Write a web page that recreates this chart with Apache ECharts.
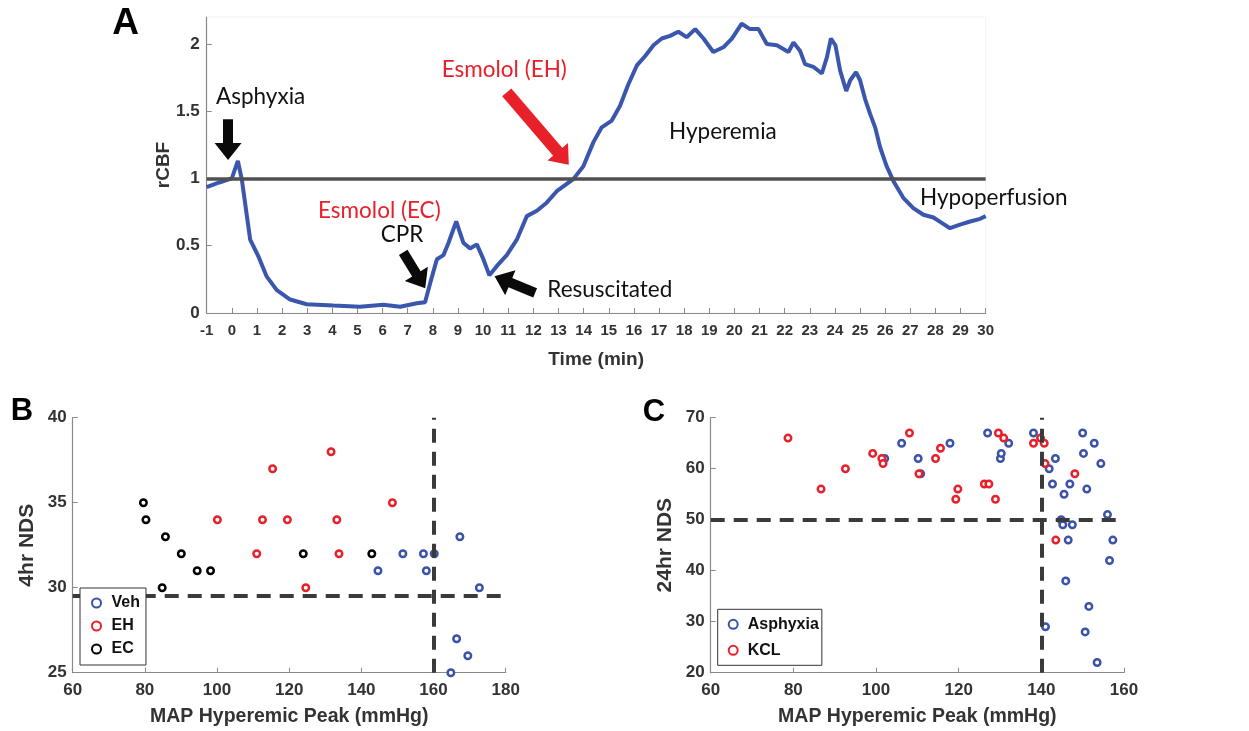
<!DOCTYPE html>
<html>
<head>
<meta charset="utf-8">
<title>rCBF and NDS</title>
<script src="https://cdn.jsdelivr.net/npm/echarts@6/dist/echarts.min.js"></script>
<style>
html, body { margin: 0; padding: 0; background: #fff; }
#main { width: 1249px; height: 731px; }
</style>
</head>
<body>
<div id="main"></div>
<script>
// panel A: rCBF trace
var timeA = [-1, -0.5, 0, 0.24, 0.4, 0.6, 0.73, 1.06, 1.39, 1.79, 2.32, 2.98, 4.04, 5.1, 6.03, 6.7, 7.36, 7.69,
	7.89, 8.16, 8.42, 8.62, 8.93, 9.22, 9.48, 9.75, 10.01, 10.25, 10.55, 10.94, 11.34, 11.74, 12.14, 12.53, 12.93,
	13.59, 13.99, 14.39, 14.72, 15.12, 15.45, 15.78, 16.12, 16.45, 16.78, 17.11, 17.44, 17.77, 18.1, 18.44, 18.77,
	19.16, 19.56, 19.9, 20.29, 20.62, 20.96, 21.29, 21.69, 22.15, 22.35, 22.61, 22.81, 23.14, 23.48, 23.68, 23.84,
	24.02, 24.21, 24.45, 24.61, 24.84, 25.0, 25.2, 25.4, 25.6, 25.8, 26.06, 26.33, 26.72, 27.12, 27.52, 27.92,
	28.25, 28.58, 28.98, 29.38, 29.78, 30];
var rcbfA = [0.935, 0.97, 1.0, 1.13, 0.99, 0.72, 0.545, 0.42, 0.27, 0.17, 0.10, 0.065, 0.055, 0.047, 0.062, 0.047, 0.072, 0.08,
	0.22, 0.40, 0.43, 0.52, 0.68, 0.52, 0.48, 0.51, 0.40, 0.28, 0.35, 0.43, 0.545, 0.72, 0.76, 0.82, 0.905,
	0.995, 1.09, 1.27, 1.38, 1.43, 1.54, 1.70, 1.84, 1.91, 1.99, 2.04, 2.06, 2.09, 2.05, 2.11, 2.04,
	1.94, 1.975, 2.04, 2.15, 2.11, 2.11, 2.0, 1.99, 1.94, 2.01, 1.95, 1.85, 1.83, 1.78, 1.90, 2.04,
	1.99, 1.80, 1.65, 1.73, 1.79, 1.73, 1.59, 1.48, 1.38, 1.23, 1.09, 0.98, 0.856, 0.78, 0.73, 0.71,
	0.67, 0.63, 0.657, 0.68, 0.70, 0.72];
var baselineA = 1;

// panel B: 4hr NDS vs MAP peak
var vehX = [144.6, 151.5, 157.2, 158.0, 160.2, 167.3, 172.7, 166.4, 169.5, 164.8];
var vehY = [31, 32, 32, 31, 32, 33, 30, 27, 26, 25];
var ehX = [100.1, 111.0, 112.6, 115.4, 119.5, 131.6, 133.2, 133.8, 124.6, 148.6];
var ehY = [34, 32, 34, 37, 34, 38, 34, 32, 30, 35];
var ecX = [79.6, 80.3, 85.7, 90.1, 94.5, 98.2, 84.8, 123.9, 142.9];
var ecY = [35, 34, 33, 32, 31, 31, 30, 32, 32];
var cutB = [160, 29.5];

// panel C: 24hr NDS vs MAP peak
var asphX = [106.2, 102.1, 110.2, 110.8, 117.9, 127.0, 130.1, 130.3, 132.1, 138.1, 141.9, 143.4, 142.7, 145.5, 144.8,
	145.2, 147.5, 146.9, 146.5, 145.9, 141.0, 150.0, 150.2, 151.0, 152.8, 154.4, 156.0, 157.3, 156.5, 151.5, 150.6, 153.5];
var asphY = [65, 62, 62, 59, 65, 67, 62, 63, 65, 67, 60, 62, 57, 55, 50,
	49, 49, 57, 46, 38, 29, 67, 63, 56, 65, 61, 51, 46, 42, 33, 28, 22];
var kclX = [78.7, 86.7, 92.6, 99.2, 101.4, 101.7, 108.1, 110.4, 114.4, 115.6, 119.3, 119.8, 126.2, 127.3, 128.9,
	129.6, 130.9, 138.1, 139.8, 140.7, 140.9, 143.5, 148.1];
var kclY = [66, 56, 60, 63, 62, 61, 67, 59, 62, 64, 54, 56, 57, 57, 54,
	67, 66, 65, 66, 65, 61, 46, 59];
var cutC = [140, 50];

// annotation arrows in panel A, [fromT, fromV, toT, toV] (to = centre of the head)
var arrowAsphyxia = [-0.15, 1.44, -0.15, 1.20];
var arrowCPR = [6.82, 0.45, 7.52, 0.237];
var arrowResus = [12.07, 0.149, 10.77, 0.249];
var arrowEH = [10.94, 1.64, 13.19, 1.15];

var blue = '#3a52a8';
var red = '#e8202a';
var tickFont = '"Liberation Sans", Arial, sans-serif';

function zip(xs, ys) {
	var out = [];
	for (var i = 0; i < xs.length; i++) {
		out.push([xs[i], ys[i]]);
	}
	return out;
}

function arrow(a, color, width) {
	return {coords: [[a[0], a[1]], [a[2], a[3]]], lineStyle: {color: color, width: width}};
}

function axisCommon(extra) {
	var base = {
		type: 'value',
		axisLine: {show: true, onZero: false, lineStyle: {color: '#8a8a8a', width: 1.2}},
		axisTick: {show: true, inside: true, length: 5, lineStyle: {color: '#8a8a8a'}},
		splitLine: {show: false},
		axisLabel: {color: '#333', fontWeight: 'bold', fontFamily: tickFont, fontSize: 16},
		nameLocation: 'middle',
		nameMoveOverlap: false,
		nameTextStyle: {color: '#333', fontWeight: 'bold', fontFamily: tickFont, fontSize: 19}
	};
	for (var k in extra) {
		if (typeof extra[k] === 'object' && base[k] && !Array.isArray(extra[k])) {
			base[k] = Object.assign({}, base[k], extra[k]);
		} else {
			base[k] = extra[k];
		}
	}
	return base;
}

function text(str, x, y, opts) {
	opts = opts || {};
	return {
		type: 'text', x: x, y: y, z: 100,
		style: {
			text: str,
			fill: opts.color || '#111',
			font: (opts.weight || 'normal') + ' ' + (opts.size || 22.5) + 'px ' + (opts.family || 'Lato, sans-serif'),
			align: opts.align || 'left',
			verticalAlign: 'middle'
		}
	};
}

function dashed(cut) {
	return {
		silent: true,
		symbol: 'none',
		label: {show: false},
		lineStyle: {color: '#3a3a3a', width: 4, type: [14, 9]},
		data: [{yAxis: cut[1]}, {xAxis: cut[0]}]
	};
}

function ring(color) {
	return {color: '#fff', borderColor: color, borderWidth: 2.5, opacity: 1};
}

var myChart = echarts.init(document.getElementById('main'), null, {renderer: 'canvas'});
var legendText = {color: '#111', fontWeight: 'bold', fontFamily: tickFont, fontSize: 16};
var option = {
	animation: false,
	backgroundColor: '#fff',
	grid: [
		{left: 206.7, top: 17, width: 779, height: 296, show: true, borderColor: '#f2f2f2', borderWidth: 1},
		{left: 72.7, top: 417.7, width: 433, height: 255},
		{left: 710.7, top: 417.7, width: 413.3, height: 255}
	],
	xAxis: [
		axisCommon({gridIndex: 0, min: -1, max: 30, interval: 1,
			axisLabel: {fontSize: 15, margin: 10},
			name: 'Time (min)', nameGap: 37, nameTextStyle: {fontSize: 19}}),
		axisCommon({gridIndex: 1, min: 60, max: 180, interval: 20,
			axisLabel: {fontSize: 17, margin: 9},
			name: 'MAP Hyperemic Peak (mmHg)', nameGap: 34, nameTextStyle: {fontSize: 19.5}}),
		axisCommon({gridIndex: 2, min: 60, max: 160, interval: 20,
			axisLabel: {fontSize: 17, margin: 9},
			name: 'MAP Hyperemic Peak (mmHg)', nameGap: 34, nameTextStyle: {fontSize: 19.5}})
	],
	yAxis: [
		axisCommon({gridIndex: 0, min: 0, max: 2.2, interval: 0.5,
			axisLabel: {fontSize: 17, margin: 7, showMaxLabel: false},
			name: 'rCBF', nameGap: 33, nameTextStyle: {fontSize: 19}}),
		axisCommon({gridIndex: 1, min: 25, max: 40, interval: 5,
			axisLabel: {fontSize: 17, margin: 6},
			name: '4hr NDS', nameGap: 35, nameTextStyle: {fontSize: 21}}),
		axisCommon({gridIndex: 2, min: 20, max: 70, interval: 10,
			axisLabel: {fontSize: 17, margin: 6},
			name: '24hr NDS', nameGap: 35, nameTextStyle: {fontSize: 21}})
	],
	legend: [
		{
			data: ['Veh', 'EH', 'EC'], orient: 'vertical', left: 80, top: 588, z: 10,
			itemWidth: 20, itemHeight: 9, itemGap: 7, padding: [7, 6, 8, 11],
			borderColor: '#333', borderWidth: 1, backgroundColor: '#fff',
			textStyle: legendText, selectedMode: false
		},
		{
			data: ['Asphyxia', 'KCL'], orient: 'vertical', left: 717.7, top: 609.3, z: 10,
			itemWidth: 19, itemHeight: 9, itemGap: 10, padding: [7, 3, 7, 10],
			borderColor: '#333', borderWidth: 1, backgroundColor: '#fff',
			textStyle: legendText, selectedMode: false
		}
	],
	series: [
		{
			name: 'rCBF', type: 'line', xAxisIndex: 0, yAxisIndex: 0,
			data: zip(timeA, rcbfA), showSymbol: false,
			lineStyle: {color: '#3a56ad', width: 4}, z: 3,
			markLine: {
				silent: true, symbol: 'none', label: {show: false},
				lineStyle: {color: '#505050', width: 3.5, type: 'solid'},
				data: [{yAxis: baselineA}]
			}
		},
		{
			name: 'arrows', type: 'lines', coordinateSystem: 'cartesian2d', xAxisIndex: 0, yAxisIndex: 0,
			symbol: ['none', 'triangle'], symbolSize: [1, [27, 17]], silent: true, z: 5,
			lineStyle: {width: 10, opacity: 1, curveness: 0},
			data: [
				arrow(arrowAsphyxia, '#0a0a0a', 10),
				arrow(arrowCPR, '#0a0a0a', 10),
				arrow(arrowResus, '#0a0a0a', 10),
				arrow(arrowEH, red, 12)
			]
		},
		{
			name: 'Veh', type: 'scatter', xAxisIndex: 1, yAxisIndex: 1, data: zip(vehX, vehY),
			symbol: 'circle', symbolSize: 6.5, itemStyle: ring(blue), z: 2
		},
		{
			name: 'EH', type: 'scatter', xAxisIndex: 1, yAxisIndex: 1, data: zip(ehX, ehY),
			symbol: 'circle', symbolSize: 6.5, itemStyle: ring(red), z: 2
		},
		{
			name: 'EC', type: 'scatter', xAxisIndex: 1, yAxisIndex: 1, data: zip(ecX, ecY),
			symbol: 'circle', symbolSize: 6.5, itemStyle: ring('#000'), z: 2,
			markLine: dashed(cutB)
		},
		{
			name: 'Asphyxia', type: 'scatter', xAxisIndex: 2, yAxisIndex: 2, data: zip(asphX, asphY),
			symbol: 'circle', symbolSize: 6.5, itemStyle: ring(blue), z: 2,
			markLine: dashed(cutC)
		},
		{
			name: 'KCL', type: 'scatter', xAxisIndex: 2, yAxisIndex: 2, data: zip(kclX, kclY),
			symbol: 'circle', symbolSize: 6.5, itemStyle: ring(red), z: 2
		}
	],
	graphic: [
		text('A', 125.5, 24, {weight: 'bold', size: 37, family: tickFont, align: 'center', color: '#000'}),
		text('B', 22, 411, {weight: 'bold', size: 31, family: tickFont, align: 'center', color: '#000'}),
		text('C', 654, 412, {weight: 'bold', size: 31, family: tickFont, align: 'center', color: '#000'}),
		text('Asphyxia', 216, 97),
		text('Esmolol (EH)', 441.7, 70, {color: red}),
		text('Hyperemia', 669, 131.7),
		text('Hypoperfusion', 920, 198),
		text('Esmolol (EC)', 318, 210.7, {color: red}),
		text('CPR', 380.7, 235),
		text('Resuscitated', 547.3, 289.3)
	]
};
myChart.setOption(option);
</script>
</body>
</html>
